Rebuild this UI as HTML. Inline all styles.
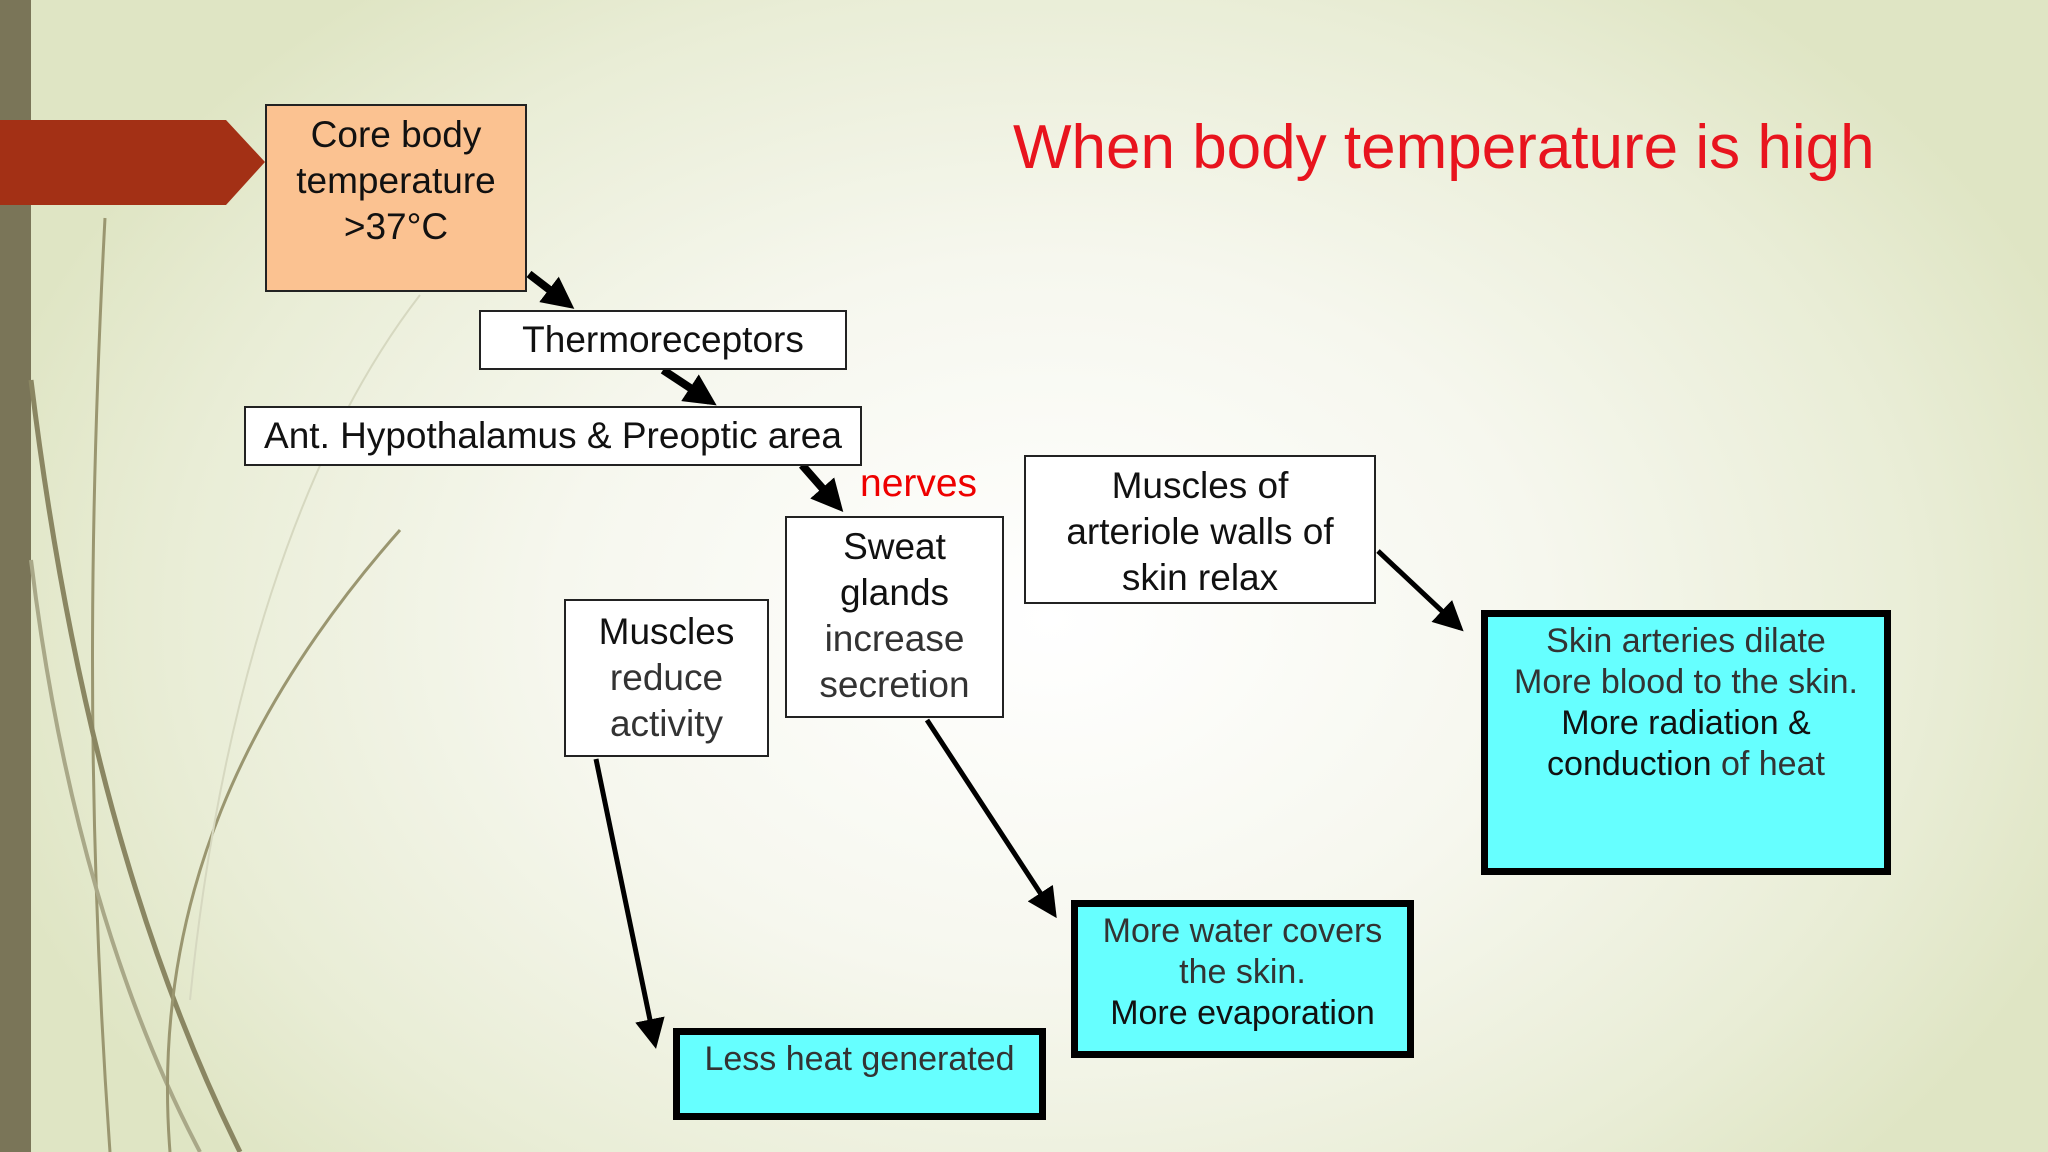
<!DOCTYPE html>
<html><head><meta charset="utf-8"><style>
html,body{margin:0;padding:0}
body{width:2048px;height:1152px;position:relative;overflow:hidden;font-family:"Liberation Sans",sans-serif;
background:radial-gradient(ellipse 1100px 800px at 1050px 620px,#ffffff 0%,#f6f7ee 45%,#e9edd6 80%,#dfe5c4 100%);}
.b{position:absolute;box-sizing:border-box;border:2px solid #222;background:#fff;display:flex;flex-direction:column;align-items:center;justify-content:flex-start;text-align:center;font-size:37px;line-height:46px;color:#111;}
.c{background:#66ffff;border:7px solid #000;}
.l{color:#333;font-weight:normal;}
svg{position:absolute;left:0;top:0}
</style></head><body>
<svg width="2048" height="1152">
<defs><marker id="ah" markerWidth="4" markerHeight="4" refX="3" refY="2" orient="auto" markerUnits="strokeWidth"><path d="M0,0 L4,2 L0,4 z" fill="#000"/></marker>
<marker id="ah2" markerWidth="6" markerHeight="6" refX="5" refY="3" orient="auto" markerUnits="strokeWidth"><path d="M0,0 L6,3 L0,6 z" fill="#000"/></marker></defs>
<rect x="0" y="0" width="31" height="1152" fill="#7a7558"/>
<path d="M105,218 C90,500 85,800 110,1152" stroke="#9a9670" stroke-width="3" fill="none"/>
<path d="M31,380 C70,700 140,950 240,1152" stroke="#8a8662" stroke-width="5" fill="none"/>
<path d="M31,560 C60,800 120,1000 200,1152" stroke="#a9a888" stroke-width="4" fill="none"/>
<path d="M400,530 C250,700 150,900 170,1152" stroke="#9a9670" stroke-width="3" fill="none"/>
<path d="M420,295 C300,450 220,700 190,1000" stroke="#d6d8c0" stroke-width="2" fill="none"/>
<path d="M0,120 L226,120 L265,162 L226,205 L0,205 z" fill="#a33015"/>
<g stroke="#000" fill="none">
<line x1="529" y1="274" x2="568" y2="304" stroke-width="8" marker-end="url(#ah)"/>
<line x1="663" y1="370" x2="710" y2="401" stroke-width="8" marker-end="url(#ah)"/>
<line x1="802" y1="465" x2="838" y2="506" stroke-width="8" marker-end="url(#ah)"/>
<line x1="927" y1="720" x2="1054" y2="914" stroke-width="5" marker-end="url(#ah2)"/>
<line x1="596" y1="759" x2="655" y2="1044" stroke-width="5" marker-end="url(#ah2)"/>
<line x1="1378" y1="551" x2="1460" y2="628" stroke-width="5" marker-end="url(#ah2)"/>
</g>
</svg>
<div class="b" style="left:265px;top:104px;width:262px;height:188px;background:#fbc291;padding-top:6px;">Core body<br>temperature<br>&gt;37°C</div>
<div class="b" style="left:479px;top:310px;width:368px;height:60px;justify-content:center;">Thermoreceptors</div>
<div class="b" style="left:244px;top:406px;width:618px;height:60px;justify-content:center;">Ant. Hypothalamus &amp; Preoptic area</div>
<div style="position:absolute;left:860px;top:462px;color:#e00;font-size:39px;">nerves</div>
<div class="b" style="left:785px;top:516px;width:219px;height:202px;padding-top:6px;">Sweat<br>glands<br><span class="l">increase<br>secretion</span></div>
<div class="b" style="left:564px;top:599px;width:205px;height:158px;padding-top:8px;">Muscles<br><span class="l">reduce<br>activity</span></div>
<div class="b" style="left:1024px;top:455px;width:352px;height:149px;padding-top:6px;">Muscles of<br>arteriole walls of<br>skin relax</div>
<div class="b c" style="left:1481px;top:610px;width:410px;height:265px;padding-top:4px;font-size:34px;line-height:41px;"><span class="l">Skin arteries dilate<br>More blood to the skin.</span>More radiation &amp;<br><span>conduction <span class="l">of heat</span></span></div>
<div class="b c" style="left:1071px;top:900px;width:343px;height:158px;padding-top:4px;font-size:34px;line-height:41px;"><span class="l">More water covers<br>the skin.</span>More evaporation</div>
<div class="b c" style="left:673px;top:1028px;width:373px;height:92px;padding-top:4px;font-size:34px;line-height:41px;"><span class="l">Less heat generated</span></div>
<div style="position:absolute;left:1013px;top:112px;color:#e8141e;font-size:62px;white-space:nowrap;">When body temperature is high</div>
</body></html>
